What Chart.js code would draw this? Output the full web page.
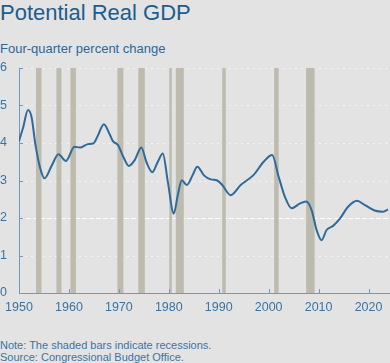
<!DOCTYPE html>
<html>
<head>
<meta charset="utf-8">
<script src="https://cdn.jsdelivr.net/npm/chart.js@4/dist/chart.umd.min.js"></script>
<style>
  html, body { margin: 0; padding: 0; background: #e3e3e3; }
  body { width: 390px; height: 363px; position: relative; overflow: hidden;
         font-family: "Liberation Sans", Arial, sans-serif; }
  .t { position: absolute; left: 0; line-height: 1; white-space: nowrap; }
  #title { top: 2px; font-size: 22px; color: #1c5d8d; }
  #sub { top: 42px; font-size: 13px; color: #2d6796; }
  #note { top: 340px; font-size: 11px; color: #3b74a2; }
  #src { top: 352px; font-size: 11px; color: #3b74a2; }
  #wrap { position: absolute; left: 0; top: 55px; width: 390px; height: 265px; }
</style>
</head>
<body>
<div class="t" id="title">Potential Real GDP</div>
<div class="t" id="sub">Four-quarter percent change</div>
<div id="wrap"><canvas id="c" width="390" height="265"></canvas></div>
<div class="t" id="note">Note: The shaded bars indicate recessions.</div>
<div class="t" id="src">Source: Congressional Budget Office.</div>
<script>
// ---- data ----
const years = [1950.0,1950.8,1951.8,1952.5,1953.3,1954.2,1955.1,1956.6,1957.9,1959.4,
  1961.1,1962.2,1963.8,1964.9,1965.7,1967.0,1968.2,1968.8,1969.8,1971.0,
  1972.0,1973.2,1974.5,1975.5,1976.7,1977.8,1978.8,1979.8,1981.0,1981.8,
  1982.6,1983.6,1984.8,1985.7,1987.1,1988.4,1989.7,1990.7,1992.4,1994.4,
  1997.0,1999.0,2000.7,2002.0,2003.3,2004.6,2006.3,2007.5,2008.6,2009.6,
  2010.6,2011.6,2012.9,2014.3,2015.9,2017.7,2019.2,2021.2,2022.9,2023.9];
const growth = [4.05,4.40,4.88,4.70,3.95,3.35,3.06,3.41,3.70,3.52,
  3.90,3.88,3.97,3.99,4.17,4.50,4.22,4.05,3.95,3.60,
  3.39,3.55,3.88,3.50,3.22,3.50,3.72,2.97,2.12,2.61,
  3.01,2.88,3.15,3.37,3.13,3.03,3.00,2.88,2.61,2.88,
  3.15,3.50,3.68,3.10,2.55,2.26,2.39,2.44,2.21,1.68,
  1.41,1.68,1.79,1.99,2.30,2.46,2.35,2.20,2.17,2.23];
const recessionStart = [1953.4,1957.5,1960.3,1969.7,1973.9,1980.1,1981.4,1990.7,2001.1,2007.5];
const recessionEnd   = [1954.5,1958.5,1961.4,1970.9,1975.2,1980.6,1983.0,1991.4,2002.0,2009.2];
const xTicks = [1950,1960,1970,1980,1990,2000,2010,2020];
const yTicks = [0,1,2,3,4,5,6];

const points = years.map((x, i) => ({ x: x, y: growth[i] }));

const axisColor = '#6b9bc3';
const labelColor = '#3a73a1';

const backdrop = {
  id: 'backdrop',
  beforeDraw(chart) {
    const { ctx, chartArea: a, scales: { x, y } } = chart;
    ctx.save();
    yTicks.forEach(v => {
      if (v === 0) return;
      const py = Math.round(y.getPixelForValue(v)) + 0.5;
      ctx.beginPath();
      if (v === 2) { ctx.strokeStyle = 'rgba(255,255,255,0.95)'; ctx.setLineDash([5, 2]); }
      else { ctx.strokeStyle = 'rgba(255,255,255,0.6)'; ctx.setLineDash([2, 4]); }
      ctx.lineWidth = 1;
      ctx.moveTo(a.left, py); ctx.lineTo(a.right, py); ctx.stroke();
    });
    ctx.setLineDash([]);
    ctx.fillStyle = '#bcbbad';
    recessionStart.forEach((s, i) => {
      const x0 = x.getPixelForValue(s), x1 = x.getPixelForValue(recessionEnd[i]);
      ctx.fillRect(x0, a.top, x1 - x0, a.bottom - a.top);
    });
    ctx.restore();
  },
  afterDatasetsDraw(chart) {
    const { ctx, chartArea: a, scales: { x, y } } = chart;
    ctx.save();
    ctx.strokeStyle = axisColor; ctx.lineWidth = 1;
    xTicks.forEach(v => {
      const px = Math.round(x.getPixelForValue(v)) + 0.5;
      ctx.beginPath(); ctx.moveTo(px, a.bottom); ctx.lineTo(px, a.bottom - 4); ctx.stroke();
    });
    yTicks.forEach(v => {
      const py = Math.round(y.getPixelForValue(v)) + 0.5;
      ctx.beginPath(); ctx.moveTo(a.left, py); ctx.lineTo(a.left + 4, py); ctx.stroke();
    });
    ctx.restore();
  }
};

new Chart(document.getElementById('c'), {
  type: 'line',
  data: {
    datasets: [{
      data: points,
      borderColor: '#2f6a98',
      borderWidth: 2,
      pointRadius: 0,
      cubicInterpolationMode: 'monotone',
      fill: false
    }]
  },
  options: {
    responsive: false,
    animation: false,
    events: [],
    layout: { padding: { top: 13, right: 0, left: 0, bottom: 0 } },
    plugins: { legend: { display: false }, tooltip: { enabled: false }, title: { display: false } },
    scales: {
      x: {
        type: 'linear',
        min: 1950, max: 2024.3,
        afterBuildTicks: s => { s.ticks = xTicks.map(v => ({ value: v })); },
        afterFit: s => { s.height = 27; s.paddingLeft = 0; s.paddingRight = 0; },
        grid: { display: false, drawTicks: false },
        border: { display: true, color: axisColor, width: 1 },
        ticks: {
          padding: 7,
          color: labelColor,
          font: { family: '"Liberation Sans", Arial, sans-serif', size: 12.5 },
          maxRotation: 0,
          autoSkip: false,
          callback: v => String(v)
        }
      },
      y: {
        min: 0, max: 6,
        afterBuildTicks: s => { s.ticks = yTicks.map(v => ({ value: v })); },
        afterFit: s => { s.width = 19; s.paddingTop = 0; s.paddingBottom = 0; },
        grid: { display: false, drawTicks: false },
        border: { display: true, color: axisColor, width: 1 },
        ticks: {
          padding: 12,
          crossAlign: 'far',
          color: labelColor,
          font: { family: '"Liberation Sans", Arial, sans-serif', size: 12.5 },
          callback: v => String(v)
        }
      }
    }
  },
  plugins: [backdrop]
});
</script>
</body>
</html>
